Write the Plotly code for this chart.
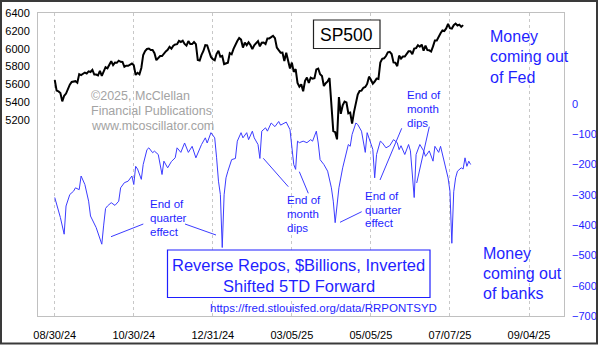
import plotly.graph_objects as go

# ---------------- data ----------------
# x axis = trading days since 08/30/24
tick_days = [0, 42, 84, 126, 168, 210, 252]
tick_labels = ["08/30/24", "10/30/24", "12/31/24", "03/05/25", "05/05/25", "07/07/25", "09/04/25"]

# S&P 500 daily closes, trading day 0 = 08/30/24
sp500 = [
    5648, 5529, 5520, 5503, 5408, 5471, 5496, 5554, 5596, 5626,
    5634, 5635, 5618, 5714, 5703, 5718, 5732, 5722, 5745, 5738,
    5762, 5709, 5710, 5699, 5751, 5695, 5751, 5792, 5780, 5815,
    5859, 5815, 5843, 5841, 5865, 5853, 5851, 5797, 5809, 5808,
    5823, 5833, 5813, 5705, 5729, 5712, 5783, 5929, 5973, 5996,
    6001, 5984, 5985, 5949, 5871, 5894, 5917, 5917, 5949, 5969,
    5987, 6021, 5999, 6032, 6047, 6050, 6087, 6075, 6090, 6053,
    6035, 6084, 6051, 6051, 6074, 6050, 5872, 5867, 5930, 5974,
    6040, 6037, 5971, 5907, 5882, 5869, 5942, 5975, 5909, 5918,
    5827, 5836, 5843, 5950, 5937, 5997, 6049, 6086, 6119, 6101,
    6012, 6068, 6039, 6071, 6041, 5994, 6038, 6061, 6084, 6026,
    6066, 6069, 6052, 6115, 6115, 6129, 6144, 6118, 6013, 5983,
    5955, 5956, 5861, 5955, 5850, 5778, 5843, 5739, 5770, 5615,
    5573, 5599, 5522, 5639, 5675, 5615, 5675, 5663, 5668, 5767,
    5777, 5712, 5693, 5581, 5612, 5633, 5671, 5397, 5074, 5062,
    4982, 5457, 5268, 5363, 5406, 5396, 5275, 5283, 5158, 5288,
    5376, 5485, 5525, 5529, 5561, 5569, 5604, 5686, 5650, 5607,
    5631, 5664, 5660, 5844, 5886, 5892, 5917, 5958, 5964, 5940,
    5845, 5842, 5803, 5922, 5889, 5912, 5912, 5936, 5970, 5971,
    5939, 6000, 6006, 6039, 6022, 6045, 5977, 6033, 5983, 5981,
    5967, 6025, 6092, 6092, 6141, 6173, 6205, 6198, 6227, 6279,
    6230, 6226, 6263, 6281, 6260, 6269, 6244, 6264,
]

# Reverse repos ($ billions), sampled; trading day index before the 5-day shift
rrp_day = [
    -5, -3, -2, 0, 1, 3, 5, 6, 8, 9, 11, 13, 14, 17, 20, 21, 22, 23, 25, 27,
    29, 30, 32, 34, 36, 37, 38, 39, 41, 42, 44, 45, 47, 48, 50, 52, 53, 55, 57, 59,
    60, 62, 64, 66, 68, 70, 73, 75, 76, 78, 80, 81, 82, 83, 84, 85, 86, 87, 89, 91,
    92, 94, 95, 97, 98, 100, 101, 103, 104, 105, 107, 108, 110, 112, 114, 115, 118, 120, 121, 122,
    123, 124, 125, 127, 129, 131, 132, 134, 135, 136, 138, 140, 142, 143, 144, 145, 146, 148, 150, 151,
    152, 153, 155, 156, 158, 160, 161, 163, 164, 165, 166, 168, 169, 171, 173, 175, 177, 178, 179, 181,
    183, 184, 186, 187, 189, 191, 192, 194, 196, 197, 199, 200, 202, 204, 205, 206, 207, 208, 209, 211,
    212, 213, 214, 215, 216,
]
rrp_billions = [
    309, 354, 375, 430, 337, 299, 288, 277, 283, 238, 266, 321, 370, 408, 463, 400, 345, 337, 326, 335,
    321, 277, 260, 255, 238, 266, 206, 215, 249, 200, 151, 145, 161, 156, 167, 233, 189, 211, 190, 178,
    145, 160, 129, 160, 140, 178, 134, 112, 129, 95, 112, 178, 255, 299, 474, 300, 244, 222, 184, 180,
    123, 95, 112, 95, 118, 90, 112, 134, 180, 90, 79, 90, 63, 75, 58, 70, 60, 85, 134, 200,
    216, 123, 128, 123, 128, 118, 123, 90, 129, 184, 200, 222, 277, 321, 392, 321, 277, 211, 156, 134,
    140, 101, 63, 68, 90, 160, 95, 134, 150, 244, 167, 123, 128, 145, 138, 118, 128, 151, 138, 167,
    134, 155, 309, 167, 134, 155, 173, 155, 189, 140, 160, 140, 189, 244, 288, 460, 290, 244, 222, 211,
    215, 178, 206, 189, 200,
]
shift_days = 5

# ---------------- figure ----------------
W, H = 600, 346
PL, PR, PT, PB = 38, 564, 13, 316


def px(x):
    return (x - PL) / (PR - PL)


def py(y):
    return (PB - y) / (PB - PT)


BLUE_TXT = "#1f1fff"
BLUE_LINE = "#3c3cff"
FONT = "Arial, Liberation Sans, sans-serif"

fig = go.Figure()
fig.add_trace(go.Scatter(
    x=[d + shift_days for d in rrp_day], y=[-v for v in rrp_billions],
    mode="lines", line=dict(color=BLUE_LINE, width=1), yaxis="y2",
    hoverinfo="skip", showlegend=False))
fig.add_trace(go.Scatter(
    x=list(range(len(sp500))), y=sp500,
    mode="lines", line=dict(color="black", width=2), yaxis="y",
    hoverinfo="skip", showlegend=False))

annotations = []
shapes = []


def text_lines(lines, x, ys, size, color, xanchor="left"):
    for t, y in zip(lines, ys):
        annotations.append(dict(
            text=t, x=px(x), y=py(y), xref="paper", yref="paper",
            xanchor=xanchor, yanchor="middle", showarrow=False,
            font=dict(family=FONT, size=size, color=color)))


def seg(x0, y0, x1, y1, color=BLUE_LINE, width=1):
    shapes.append(dict(type="line", xref="paper", yref="paper",
                       x0=px(x0), y0=py(y0), x1=px(x1), y1=py(y1),
                       line=dict(color=color, width=width)))


def box(x0, y0, x1, y1, color, width=1):
    shapes.append(dict(type="rect", xref="paper", yref="paper",
                       x0=px(x0), y0=py(y0), x1=px(x1), y1=py(y1),
                       line=dict(color=color, width=width), fillcolor="white",
                       layer="above"))


# watermark
text_lines(["©2025, McClellan", "Financial Publications", "www.mcoscillator.com"],
           89, [96, 111, 126], 12.5, "#a3a3a3")

# side labels
text_lines(["Money", "coming out", "of Fed"], 488, [37, 57, 77], 16, BLUE_TXT)
text_lines(["Money", "coming out", "of banks"], 481, [253, 273, 293], 16, BLUE_TXT)

# SP500 box
box(313.5, 20, 380, 48.5, "#222222", 1.2)
text_lines(["SP500"], 346.7, [34.5], 17.5, "black", xanchor="center")

# title box
box(167.5, 250, 430, 297.5, BLUE_TXT, 1.2)
text_lines(["Reverse Repos, $Billions, Inverted", "Shifted 5TD Forward"],
           298.7, [265, 286], 16.5, BLUE_TXT, xanchor="center")
text_lines(["https://fred.stlouisfed.org/data/RRPONTSYD"], 208, [307.5], 11.5, BLUE_TXT)

# callouts
text_lines(["End of", "quarter", "effect"], 148, [203.5, 217.5, 231.5], 11.5, BLUE_TXT)
text_lines(["End of", "month", "dips"], 285, [199.5, 213.5, 227.5], 11.5, BLUE_TXT)
text_lines(["End of", "month", "dips"], 405, [95, 109, 123], 11.5, BLUE_TXT)
text_lines(["End of", "quarter", "effect"], 363, [196, 210, 223], 11.5, BLUE_TXT)

seg(111, 236.7, 143.3, 224)
seg(185, 224, 216, 235)
seg(263.3, 158.3, 288.3, 186.7)
seg(299.3, 171.7, 308.3, 193.3)
seg(401.7, 128.3, 380, 180)
seg(429.3, 126.7, 416.7, 183)
seg(340, 222.3, 361.7, 211.7)

# outer frame of the image
shapes.append(dict(type="rect", xref="paper", yref="paper",
                   x0=px(1), y0=py(343.5), x1=px(597), y1=py(1),
                   line=dict(color="#3a3a3a", width=2), fillcolor="rgba(0,0,0,0)",
                   layer="above"))

fig.update_layout(
    width=W, height=H,
    margin=dict(l=PL, r=W - PR, t=PT, b=H - PB, autoexpand=False),
    paper_bgcolor="white", plot_bgcolor="white",
    font=dict(family=FONT, size=11, color="black"),
    xaxis=dict(
        range=[-8.9, 270.6], tickvals=tick_days, ticktext=tick_labels,
        showgrid=True, gridcolor="#c8c8c8", griddash="dot", gridwidth=1,
        showline=True, linecolor="#c0c0c0", linewidth=1, mirror=True,
        zeroline=False, ticks="", ticklabelstandoff=9, automargin=False,
        tickfont=dict(family=FONT, size=11, color="black")),
    yaxis=dict(
        range=[3000, 6400], tickvals=[5200, 5400, 5600, 5800, 6000, 6200, 6400],
        showgrid=False, zeroline=False, showline=True, linecolor="#c0c0c0",
        linewidth=1, mirror=True, ticks="", ticklabelstandoff=5, automargin=False,
        tickfont=dict(family=FONT, size=11, color="black")),
    yaxis2=dict(
        range=[-700, 300], tickvals=[0, -100, -200, -300, -400, -500, -600, -700],
        overlaying="y", side="right", showgrid=False, zeroline=False,
        showline=False, ticks="", ticklabelstandoff=7, automargin=False,
        tickfont=dict(family=FONT, size=11, color=BLUE_TXT)),
    annotations=annotations,
    shapes=shapes,
    showlegend=False,
)

fig.write_html("out.html")
